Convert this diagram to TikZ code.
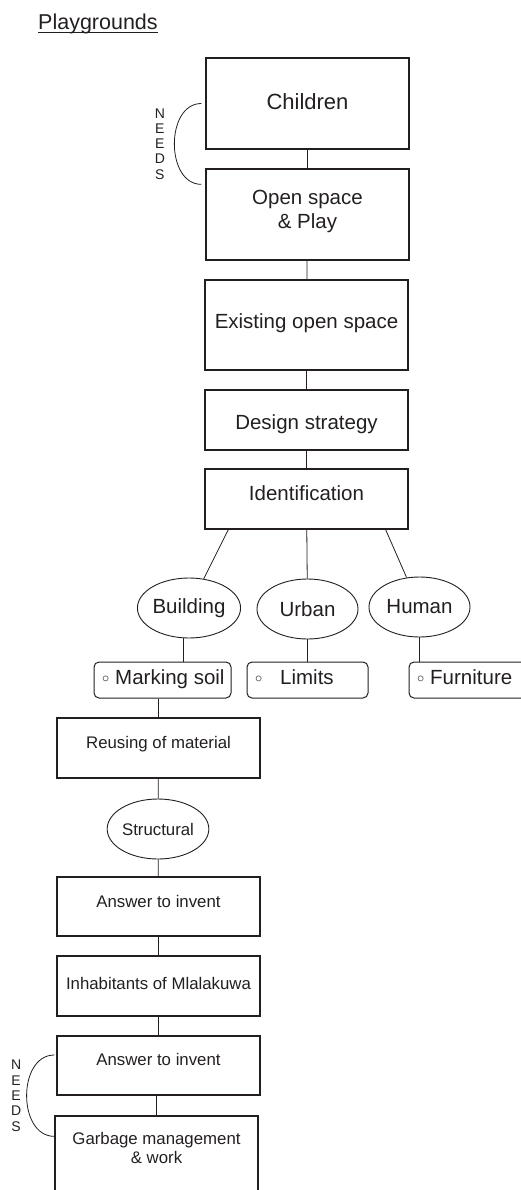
\documentclass[tikz,border=0pt]{standalone}
\usepackage{fontspec}
\setmainfont{Liberation Sans}
\usetikzlibrary{shapes.geometric}
\definecolor{ink}{RGB}{35,31,32}
\newcommand{\bul}{\raisebox{2.2pt}{\fontsize{15}{15}\selectfont$\circ$}}

\begin{document}
\begin{tikzpicture}[x=1pt,y=-1pt,color=ink,
    frame/.style={draw, line width=1.3pt, minimum width=203pt, inner sep=0pt},
    box/.style={frame, font=\fontsize{20.5}{24.6}\selectfont, text height=14.7pt, text depth=#1},
    box/.default=0pt,
    sbox/.style={frame, font=\fontsize{16.8}{19.7}\selectfont, text height=12pt, text depth=#1},
    sbox/.default=0pt,
    pair/.style={frame, align=center},
    oval/.style={draw, ellipse, line width=0.9pt, minimum width=101pt, minimum height=60pt, inner sep=0pt, font=\fontsize{20.5}{24.6}\selectfont},
    tag/.style={draw, rounded corners=5pt, line width=1pt, minimum height=36pt, inner xsep=8pt, inner ysep=0pt, text height=14.7pt, text depth=5pt, font=\fontsize{20.5}{24.6}\selectfont},
    link/.style={line width=0.8pt},
    needs/.style={inner sep=0pt, align=center, font=\fontsize{14}{15.3}\selectfont}
  ]
  \useasboundingbox (0,0) rectangle (521,1190);

  % title
  \node[anchor=base west, inner sep=0pt, font=\fontsize{21.5}{25}\selectfont] (title) at (38,30) {Playgrounds};
  \draw[link] ([yshift=-2pt]title.base west) -- ([yshift=-2pt]title.base east);

  % upper column
  \node[box=3pt, minimum height=91pt, font=\fontsize{22}{26}\selectfont, text height=15.7pt] (child) at (307.5,103.5) {Children};
  \node[pair, minimum height=91pt, font=\fontsize{20.5}{24.6}\selectfont, text depth=10.3pt] (open) at (307.5,214.5) {Open space\\\& Play};
  \node[box=8pt, minimum height=90pt] (exist) at (306.5,325) {Existing open space};
  \node[box, text height=18.7pt, minimum height=60pt] (design) at (306.5,420) {Design strategy};
  \node[box=11pt, minimum height=60pt] (ident) at (306.5,499) {Identification};

  % three kinds
  \node[oval] (bld) at (189,608) {Building};
  \node[oval] (urb) at (307.5,609) {Urban};
  \node[oval] (hum) at (419.5,607) {Human};

  \node[tag, minimum width=137pt] (mark) at (162.5,680) {\makebox[121pt][l]{\bul\hspace{6pt}Marking soil}};
  \node[tag, minimum width=121pt] (lim) at (307.5,680) {\makebox[105pt][l]{\bul\hspace{18pt}Limits}};
  \node[tag, minimum width=140pt] (fur) at (479,680) {\makebox[124pt][l]{\bul\hspace{6pt}Furniture}};

  % lower column
  \node[sbox=12pt, minimum height=60pt] (reuse) at (158.5,748) {Reusing of material};
  \node[oval, font=\fontsize{16.8}{19.7}\selectfont] (struc) at (158,829) {Structural};
  \node[sbox=11pt, minimum height=59pt] (ans1) at (158.5,906.5) {Answer to invent};
  \node[sbox=6pt, minimum height=60pt] (inhab) at (158.5,986) {Inhabitants of Mlalakuwa};
  \node[sbox=13pt, minimum height=59pt] (ans2) at (158.5,1065.5) {Answer to invent};
  \node[pair, minimum height=84pt, font=\fontsize{16.8}{19.7}\selectfont, text depth=20.2pt] (gar) at (156.5,1158) {Garbage management\\\& work};

  % links
  \draw[link] (child) -- (open);
  \draw[link] (open) -- (exist);
  \draw[link] (exist) -- (design);
  \draw[link] (design) -- (ident);
  \draw[link] ([xshift=24pt]ident.south west) -- (bld);
  \draw[link] (ident) -- (urb);
  \draw[link] ([xshift=-23pt]ident.south east) -- (hum);
  \draw[link] ([xshift=-6pt]bld.south) -- ([xshift=-6pt]bld.south |- mark.north);
  \draw[link] (urb) -- (lim);
  \draw[link] (hum.south) -- (hum.south |- fur.north);
  \draw[link] (reuse.north |- mark.south) -- (reuse.north);
  \draw[link] (reuse) -- (struc);
  \draw[link] (struc) -- (ans1);
  \draw[link] (ans1) -- (inhab);
  \draw[link] (inhab) -- (ans2);
  \draw[link] (gar.north |- ans2.south) -- (gar.north);

  % needs
  \draw[link] ([xshift=-4pt]child.west) .. controls +(-36,0) and +(-36,0) .. ([xshift=-4pt,yshift=-16pt]open.north west)
    node[midway, left=9pt, needs] {N\\E\\E\\D\\S};
  \draw[link] ([xshift=-2pt,yshift=10.5pt]ans2.west) .. controls +(-37,0) and +(-37,0) .. ([yshift=-21pt]gar.north west)
    node[midway, left=5pt, needs] {N\\E\\E\\D\\S};
\end{tikzpicture}
\end{document}
